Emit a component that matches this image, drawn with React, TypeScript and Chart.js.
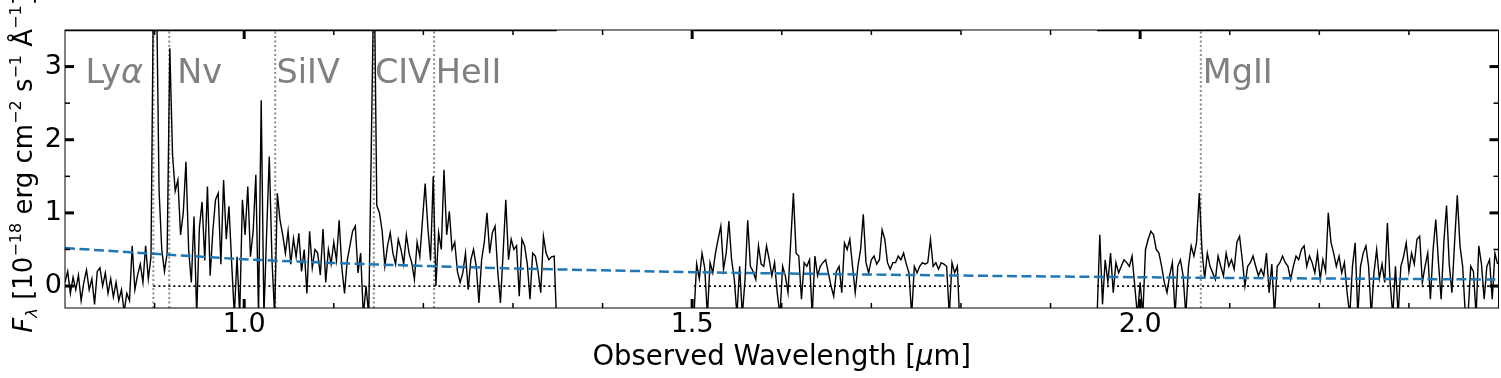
import React, { useEffect, useRef } from "react";
import { Chart, registerables } from "chart.js";

Chart.register(...registerables);

// ---------------- data ----------------
const X_MIN = 0.8;
const X_MAX = 2.4;
const Y_MIN = -0.3;
const Y_MAX = 3.5;

const X_MAJOR_TICKS = [1.0, 1.5, 2.0];
const X_MINOR_TICKS = [0.9, 1.1, 1.2, 1.3, 1.4, 1.6, 1.7, 1.8, 1.9, 2.1, 2.2, 2.3];
const Y_MAJOR_TICKS = [0, 1, 2, 3];
const Y_MINOR_TICKS = [0.5, 1.5, 2.5];

const REDSHIFT = 6.39;
const LINE_NAMES = ["Lyα", "Nv", "SiIV", "CIV", "HeII", "MgII"];
const LINE_REST_UM = [0.1216, 0.124, 0.14, 0.1549, 0.164, 0.2798];
const LABEL_DX_UM = [-0.0115, 0.009, 0.0015, 0.0012, 0.0018, 0.0022];
const LABEL_ALIGN = ["right", "left", "left", "left", "left", "left"];
const LABEL_Y = 2.78;

// spectrum: three wavelength segments on a regular grid (µm)
const GRID_STEP = 0.003;
const SEG_STARTS = [0.8, 1.502, 1.952];

const SEG1_FLUX = [
  0.05, 0.2, -0.1, 0.12, -0.05, 0.15, -0.2, 0.05, 0.22, -0.05,
  0.1, -0.25, 0.2, 0.25, 0.0, 0.18, -0.1, 0.1, -0.15, 0.05,
  -0.2, -0.05, -0.35, -0.1, -0.2, 0.55, -0.05, 0.15, 0.3, 0.05,
  0.55, 0.1, 0.4,
  4.5, 4.2, 1.3, 0.5, 0.2, 0.45, 3.25, 1.8, 1.3, 1.45, 0.7, 1.0, 1.7,
  0.5, 0.05, 0.95, -0.4, 0.8, 1.15, 0.35,
  1.36, 0.14, 0.75, 1.18, 1.27, 0.3, 1.45, 0.64, 1.09, 0.32,
  -0.4, 0.4, -0.4, 1.18, 0.7, 1.36, 0.4, 0.75, 1.52, -0.4,
  2.54, -0.4, 0.7, 1.77, 0.36, -0.4, 1.27, 0.9, 0.7,
  0.45, 0.75, 0.3, 0.65, 0.4, 0.72, 0.2, 0.5, -0.1, 0.75,
  0.25, 0.5, 0.45, 0.15, 0.78, 0.05, 0.5, 0.3, 0.6, 0.35,
  0.9, 0.25, -0.1, 0.35, 0.55, 0.75, 0.82, 0.18, 0.45, -0.4,
  0.0, -0.4, 2.0, 4.5, 1.1,
  1.0, 0.75, 0.27, 0.55, 0.73, 0.45, 0.3, 0.64, 0.5, 0.3,
  0.7, 0.45, 0.32, 0.09, 0.6, 0.4, 0.9, 1.4, 0.8, 0.35,
  1.5, 0.0, 0.73, 0.5, 1.59, 0.7, 1.02, 0.5, 0.6, 0.2,
  0.05, 0.18, 0.45, -0.05, 0.36, 0.5, 0.27, -0.23, 0.36, 0.6,
  1.0, 0.45, 0.73, 0.82, 0.2, -0.23, 0.45, 1.18, 0.36, 0.64,
  0.5, 0.55, -0.14, 0.64, 0.55, 0.3, -0.18, 0.45, 0.41, 0.2,
  -0.09, 0.68, 0.45, 0.36, 0.4, 0.41, -0.6,
];

const SEG2_FLUX = [
  -0.4, 0.3, 0.1, 0.45, 0.25, -0.4, 0.32, 0.18, 0.45, 0.64,
  0.82, 0.23, 0.45, 0.89, 0.36, 0.1, -0.4, 0.27, -0.4, 0.09,
  0.9, 0.27, 0.2, 0.09, 0.55, 0.3, 0.27, 0.55, 0.36, 0.14,
  0.32, -0.1, -0.4, 0.27, 0.14, -0.09, 0.6, 1.27, 0.45, 0.41,
  -0.18, 0.32, 0.27, 0.36, -0.4, 0.41, 0.14, 0.27, 0.32, 0.36,
  0.18, 0.0, -0.14, 0.2, 0.27, -0.09, 0.59, 0.5, 0.64, 0.27,
  -0.09, 0.27, 0.5, 0.98, 0.32, 0.18, 0.36, 0.41, 0.3, 0.36,
  0.77, 0.64, 0.32, 0.23, 0.32, 0.32, 0.41, 0.36, 0.45, 0.3,
  0.18, -0.4, 0.27, 0.18, 0.27, 0.32, 0.3, 0.32, 0.64, 0.27,
  0.32, 0.23, 0.32, 0.3, 0.27, -0.4, 0.32, 0.18, 0.27, -0.6,
];

const SEG3_FLUX = [
  -0.4, 0.7, -0.25, 0.36, 0.05, 0.45, -0.09, 0.32, 0.18, 0.27,
  0.36, 0.32, 0.27, 0.41, 0.0, -0.4, 0.05, -0.4, 0.5, 0.64,
  0.75, 0.7, 0.5, 0.45, 0.27, 0.05, -0.09, 0.15, 0.32, -0.4,
  0.27, 0.36, 0.14, -0.4, 0.27, 0.55, 0.41, 0.6, 1.27, 0.5,
  0.1, 0.45, 0.27, 0.18, 0.09, 0.41, 0.27, 0.14, 0.45, 0.27,
  0.36, 0.23, 0.6, 0.68, 0.36, 0.0, 0.27, 0.32, 0.41, 0.27,
  0.14, 0.23, 0.14, 0.45, -0.09, 0.3, -0.4, 0.27, 0.32, 0.41,
  0.32, 0.27, 0.09, 0.27, 0.41, 0.36, 0.5, 0.55, 0.27, 0.41,
  0.32, 0.18, 0.45, 0.09, 0.36, 0.2, 1.0, 0.6, 0.45, 0.27,
  0.41, 0.18, 0.32, -0.09, -0.4, 0.27, 0.59, -0.4, 0.27, 0.45,
  0.55, 0.27, -0.4, 0.18, 0.5, 0.1, 0.3, 0.05, 0.86, 0.05,
  -0.4, 0.27, -0.4, 0.27, 0.4, 0.59, 0.2, 0.45, 0.3, 0.64,
  0.68, 0.05, 0.27, 0.45, -0.18, 0.5, 0.91, 0.32, -0.18, 0.6,
  1.1, 0.3, -0.09, 0.6, 1.24, 0.55, 0.27, -0.4, -0.4, 0.27,
  0.2, -0.4, 0.55, 0.3, -0.18, 0.27, 0.36, -0.18, 0.45, 0.3,
];

const SEG_FLUXES = [SEG1_FLUX, SEG2_FLUX, SEG3_FLUX];

// continuum model (blue dashed)
const CONT_WAVE = [0.8, 0.9, 1.0, 1.1, 1.2, 1.3, 1.4, 1.5, 1.6, 1.7, 1.8, 1.9, 2.0, 2.1, 2.2, 2.3, 2.4];
const CONT_FLUX = [0.52, 0.44, 0.365, 0.315, 0.275, 0.24, 0.215, 0.19, 0.172, 0.157, 0.143, 0.131, 0.12, 0.111, 0.103, 0.096, 0.09];

// ---------------- helpers ----------------
const FONT = "'DejaVu Sans', 'Liberation Sans', sans-serif";

type Pt = { x: number; y: number | null };

function segmentEnds(k: number): [number, number] {
  const start = SEG_STARTS[k];
  const end = +(start + (SEG_FLUXES[k].length - 1) * GRID_STEP).toFixed(4);
  return [start, end];
}

function buildSpectrum(): Pt[] {
  const pts: Pt[] = [];
  SEG_FLUXES.forEach((flux, k) => {
    const [, end] = segmentEnds(k);
    flux.forEach((f, i) => pts.push({ x: +(SEG_STARTS[k] + i * GRID_STEP).toFixed(4), y: f }));
    pts.push({ x: end + GRID_STEP / 2, y: null });
  });
  return pts;
}

function buildZeroLine(): Pt[] {
  const lya = LINE_REST_UM[0] * (1 + REDSHIFT);
  const pts: Pt[] = [];
  SEG_FLUXES.forEach((_, k) => {
    const [start, end] = segmentEnds(k);
    pts.push({ x: Math.max(start, lya), y: 0 }, { x: end, y: 0 }, { x: end + 0.001, y: null });
  });
  return pts;
}

function buildCoverageTop(): Pt[] {
  const pts: Pt[] = [];
  SEG_FLUXES.forEach((_, k) => {
    const [start, end] = segmentEnds(k);
    pts.push({ x: start, y: Y_MAX }, { x: end, y: Y_MAX }, { x: end + 0.001, y: null });
  });
  return pts;
}

function buildMarkers(): Pt[] {
  const pts: Pt[] = [];
  LINE_REST_UM.forEach((w) => {
    const lam = w * (1 + REDSHIFT);
    pts.push({ x: lam, y: Y_MIN }, { x: lam, y: Y_MAX }, { x: lam, y: null });
  });
  return pts;
}

const Y_TITLE_PARTS = [
  { t: "F", s: 26, it: true, dy: 0 },
  { t: "λ", s: 16.5, it: true, dy: 5 },
  { t: " [10", s: 26, it: false, dy: 0 },
  { t: "−18", s: 16, it: false, dy: -11 },
  { t: " erg cm", s: 26, it: false, dy: 0 },
  { t: "−2", s: 16, it: false, dy: -11 },
  { t: " s", s: 26, it: false, dy: 0 },
  { t: "−1", s: 16, it: false, dy: -11 },
  { t: " Å", s: 26, it: false, dy: 0 },
  { t: "−1", s: 16, it: false, dy: -11 },
  { t: "]", s: 26, it: false, dy: 0 },
];

const X_TITLE_PARTS = [
  { t: "Observed Wavelength [", s: 27.5, it: false, dy: 0 },
  { t: "μ", s: 27.5, it: true, dy: 0 },
  { t: "m]", s: 27.5, it: false, dy: 0 },
];

function drawParts(ctx: CanvasRenderingContext2D, parts: typeof Y_TITLE_PARTS, x0: number, y0: number, center: boolean) {
  let total = 0;
  const widths = parts.map((p) => {
    ctx.font = `${p.it ? "italic " : ""}${p.s}px ${FONT}`;
    const w = ctx.measureText(p.t).width;
    total += w;
    return w;
  });
  let x = center ? x0 - total / 2 : x0;
  parts.forEach((p, i) => {
    ctx.font = `${p.it ? "italic " : ""}${p.s}px ${FONT}`;
    ctx.fillText(p.t, x, y0 + p.dy);
    x += widths[i];
  });
}

const decorPlugin = {
  id: "decor",
  afterDatasetsDraw(chart: any) {
    const { ctx, chartArea: a, scales } = chart;
    const xs = scales.x;
    const ys = scales.y;
    ctx.save();
    ctx.lineCap = "butt";
    ctx.strokeStyle = "#000";

    // frame
    ctx.lineWidth = 1;
    ctx.strokeRect(a.left, a.top, a.right - a.left, a.bottom - a.top);

    const seg = (x1: number, y1: number, x2: number, y2: number, w: number) => {
      ctx.lineWidth = w;
      ctx.beginPath();
      ctx.moveTo(x1, y1);
      ctx.lineTo(x2, y2);
      ctx.stroke();
    };
    const MAJ = 9, MIN = 5, MAJW = 3, MINW = 1.5;
    X_MAJOR_TICKS.forEach((v) => {
      const p = xs.getPixelForValue(v);
      seg(p, a.bottom, p, a.bottom - MAJ, MAJW);
      seg(p, a.top, p, a.top + MAJ, MAJW);
    });
    X_MINOR_TICKS.forEach((v) => {
      const p = xs.getPixelForValue(v);
      seg(p, a.bottom, p, a.bottom - MIN, MINW);
      seg(p, a.top, p, a.top + MIN, MINW);
    });
    Y_MAJOR_TICKS.forEach((v) => {
      const p = ys.getPixelForValue(v);
      seg(a.left, p, a.left + MAJ, p, MAJW);
      seg(a.right, p, a.right - MAJ, p, MAJW);
    });
    Y_MINOR_TICKS.forEach((v) => {
      const p = ys.getPixelForValue(v);
      seg(a.left, p, a.left + MIN, p, MINW);
      seg(a.right, p, a.right - MIN, p, MINW);
    });

    // emission-line labels
    ctx.fillStyle = "#808080";
    ctx.textBaseline = "alphabetic";
    ctx.textAlign = "left";
    LINE_NAMES.forEach((name, k) => {
      const lam = LINE_REST_UM[k] * (1 + REDSHIFT) + LABEL_DX_UM[k];
      const px = xs.getPixelForValue(lam);
      const py = ys.getPixelForValue(LABEL_Y);
      const parts =
        name === "Lyα"
          ? [
              { t: "Ly", s: 33.5, it: false, dy: 0 },
              { t: "α", s: 33.5, it: true, dy: 0 },
            ]
          : [{ t: name, s: 33.5, it: false, dy: 0 }];
      let total = 0;
      parts.forEach((p) => {
        ctx.font = `${p.it ? "italic " : ""}${p.s}px ${FONT}`;
        total += ctx.measureText(p.t).width;
      });
      const startX = LABEL_ALIGN[k] === "right" ? px - total : px;
      drawParts(ctx, parts, startX, py, false);
    });

    // axis titles
    ctx.fillStyle = "#000";
    drawParts(ctx, X_TITLE_PARTS, (a.left + a.right) / 2, 365, true);
    ctx.save();
    ctx.translate(32, 164);
    ctx.rotate(-Math.PI / 2);
    drawParts(ctx, Y_TITLE_PARTS, 0, 0, true);
    ctx.restore();

    ctx.restore();
  },
};

export default function App() {
  const ref = useRef<HTMLCanvasElement | null>(null);

  useEffect(() => {
    if (!ref.current) return;
    const chart = new Chart(ref.current, {
      type: "line",
      data: {
        datasets: [
          {
            label: "continuum",
            data: CONT_WAVE.map((w, i) => ({ x: w, y: CONT_FLUX[i] })),
            borderColor: "#1f77b4",
            borderWidth: 2.5,
            borderDash: [10, 4.5],
            pointRadius: 0,
            tension: 0,
            order: 0,
          },
          {
            label: "zero",
            data: buildZeroLine(),
            borderColor: "#000",
            borderWidth: 1.8,
            borderDash: [2, 3],
            pointRadius: 0,
            spanGaps: false,
            order: 1,
          },
          {
            label: "spectrum",
            data: buildSpectrum(),
            borderColor: "#000",
            borderWidth: 1.4,
            pointRadius: 0,
            tension: 0,
            spanGaps: false,
            order: 2,
          },
          {
            label: "coverage",
            data: buildCoverageTop(),
            borderColor: "#000",
            borderWidth: 2.5,
            pointRadius: 0,
            spanGaps: false,
            order: 3,
          },
          {
            label: "lines",
            data: buildMarkers(),
            borderColor: "#8c8c8c",
            borderWidth: 2,
            borderDash: [2, 2.5],
            pointRadius: 0,
            spanGaps: false,
            order: 4,
          },
        ] as any,
      },
      options: {
        responsive: false,
        maintainAspectRatio: false,
        animation: false,
        devicePixelRatio: 1,
        parsing: false as any,
        normalized: true,
        layout: { padding: { top: 30, right: 2.5, left: 0, bottom: 0 } },
        plugins: {
          legend: { display: false },
          tooltip: { enabled: false },
          title: { display: false },
        },
        events: [],
        scales: {
          x: {
            type: "linear",
            min: X_MIN,
            max: X_MAX,
            position: "bottom",
            grid: { display: false, drawTicks: false },
            border: { display: false },
            afterFit: (s: any) => {
              s.height = 70;
            },
            afterBuildTicks: (s: any) => {
              s.ticks = X_MAJOR_TICKS.map((v) => ({ value: v }));
            },
            ticks: {
              color: "#000",
              font: { family: FONT, size: 27 },
              padding: 1,
              maxRotation: 0,
              autoSkip: false,
              callback: (v: any) => Number(v).toFixed(1),
            },
          },
          y: {
            type: "linear",
            min: Y_MIN,
            max: Y_MAX,
            grid: { display: false, drawTicks: false },
            border: { display: false },
            afterFit: (s: any) => {
              s.width = 65;
            },
            afterBuildTicks: (s: any) => {
              s.ticks = Y_MAJOR_TICKS.map((v) => ({ value: v }));
            },
            ticks: {
              color: "#000",
              font: { family: FONT, size: 27 },
              padding: 3,
              autoSkip: false,
              callback: (v: any) => String(v),
            },
          },
        },
      },
      plugins: [decorPlugin],
    });
    return () => chart.destroy();
  }, []);

  return (
    <div style={{ position: "fixed", left: 0, top: 0, width: 1501, height: 378, background: "#fff" }}>
      <canvas ref={ref} width={1501} height={378} style={{ display: "block", width: 1501, height: 378 }} />
    </div>
  );
}
